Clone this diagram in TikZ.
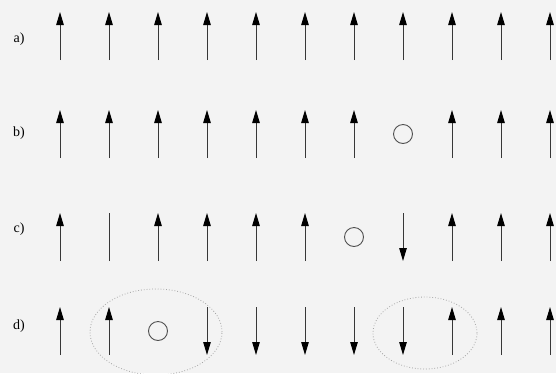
\documentclass[tikz,border=0pt]{standalone}
\usepackage{fontspec}
\setmainfont{Liberation Serif}
\usetikzlibrary{arrows.meta,positioning}
\definecolor{scanpaper}{RGB}{243,243,243}
\definecolor{spinink}{RGB}{55,55,55}
\definecolor{holeink}{RGB}{80,80,80}

\tikzset{
  spinline/.style={draw=spinink, line width=1pt},
  spinup/.style={spinline, -{Triangle[width=7.5pt,length=13pt,color=black]}},
  spinbare/.style={spinline},
  hole/.style={circle, draw=holeink, line width=0.9pt, minimum size=19pt, inner sep=0pt},
  cluster/.style={draw=gray!70, dotted, line width=0.8pt},
  rowlabel/.style={font=\fontsize{14}{16}\selectfont, inner sep=0pt}
}

\begin{document}
\begin{tikzpicture}[x=1pt, y=-1pt]
  \fill[scanpaper] (0,0) rectangle (556,373);
  \useasboundingbox (0,0) rectangle (556,373);

  % row labels
  \node[rowlabel] (la) at (19,39) {a)};
  \node[rowlabel] (lb) at (19,133) {b)};
  \node[rowlabel] (lc) at (19,229) {c)};
  \node[rowlabel] (ld) at (19,326) {d)};

  % spin rows: u = up, d = down, n = no head, o = hole
  \foreach \row/\yc/\spins in {a/36/{u,u,u,u,u,u,u,u,u,u,u},
                               b/134/{u,u,u,u,u,u,u,o,u,u,u},
                               c/237/{u,n,u,u,u,u,o,d,u,u,u},
                               d/331/{u,u,o,d,d,d,d,d,u,u,u}} {
    \foreach \s [count=\i] in \spins {
      \pgfmathsetmacro{\xc}{60+49*(\i-1)}
      \coordinate (\row\i-top) at (\xc,\yc-24);
      \coordinate (\row\i-bot) at (\xc,\yc+24);
      \if\s u\draw[spinup] (\row\i-bot) -- (\row\i-top);\fi
      \if\s d\draw[spinup] (\row\i-top) -- (\row\i-bot);\fi
      \if\s n\draw[spinbare] (\row\i-bot) -- (\row\i-top);\fi
      \if\s o\node[hole] (\row\i-hole) at (\xc,\yc) {};\fi
    }
  }

  % dotted clusters in row d
  \draw[cluster] (156,332) ellipse [x radius=66pt, y radius=43pt];
  \draw[cluster] (425,333) ellipse [x radius=52pt, y radius=36pt];
\end{tikzpicture}
\end{document}
